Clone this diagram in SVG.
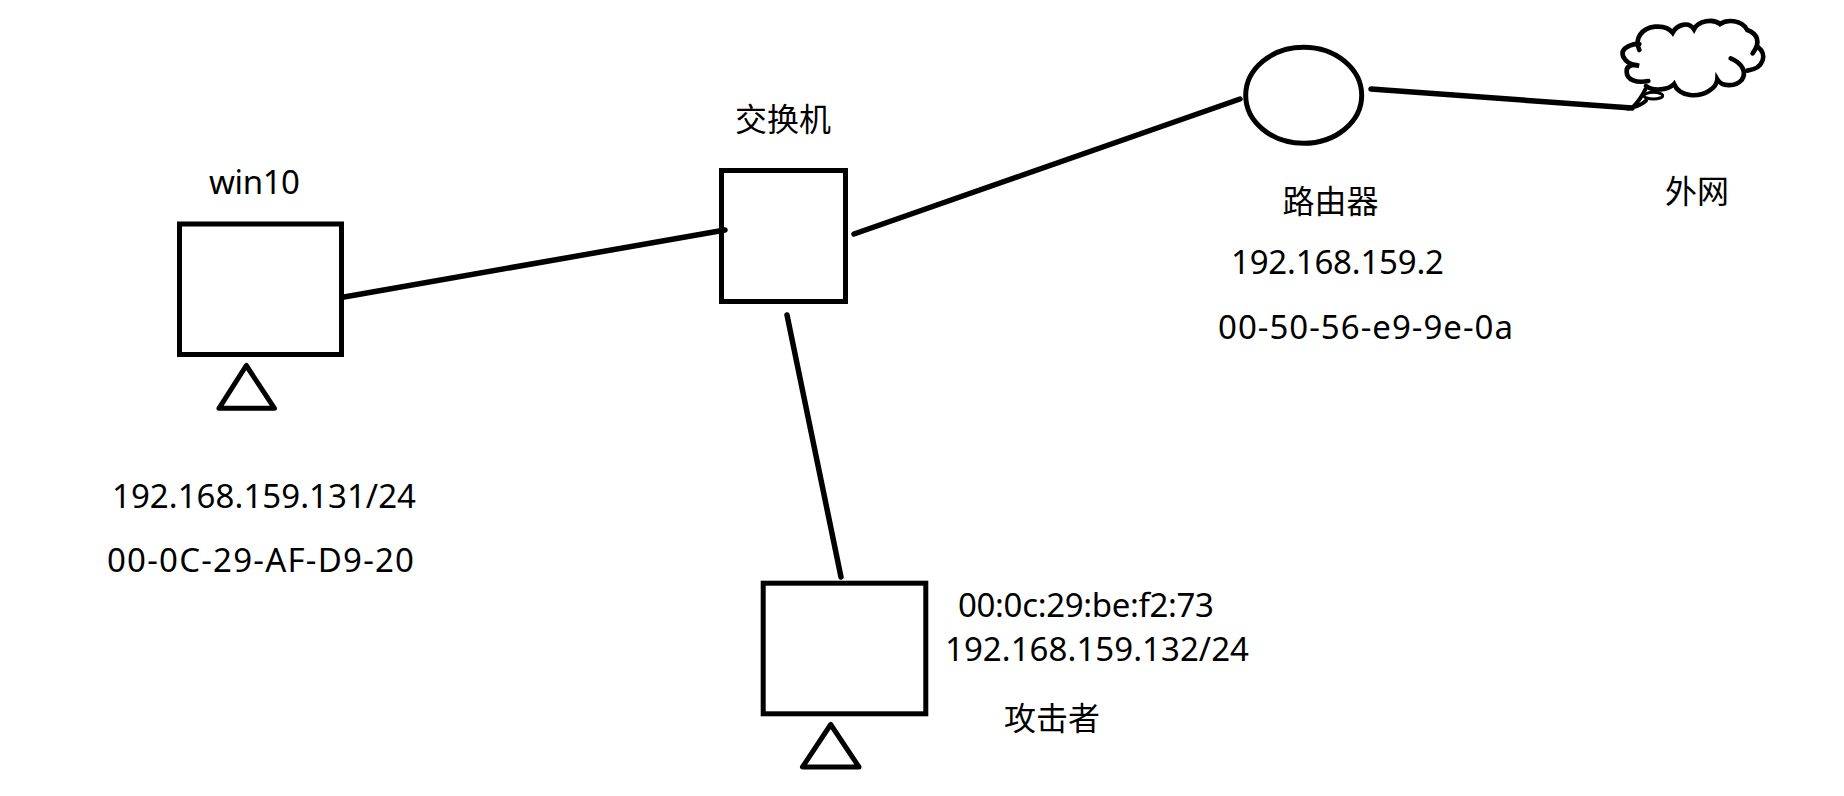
<svg xmlns="http://www.w3.org/2000/svg" width="1844" height="796" viewBox="0 0 1844 796">
<style>
.s{fill:none;stroke:#000;stroke-width:5}
.t{fill:none;stroke:#000;stroke-width:5;stroke-linejoin:round}
.c{fill:none;stroke:#000;stroke-width:5.500;stroke-linecap:round}
text{font-family:"Noto Sans","Noto Sans CJK SC",sans-serif;font-size:33px;fill:#000}
.h{font-size:32px}
</style>
<rect width="1844" height="796" fill="#fff"/>
<g id="connectors">
<path class="c" d="M344 297L725 230"/>
<path class="c" d="M854 234L1240 99"/>
<path class="c" d="M787 315L841 577"/>
<path class="c" d="M1371 89L1632 108"/>
</g>
<g id="win10">
<rect class="s" x="179.500" y="224" width="162" height="130.500"/>
<path class="t" d="M246.300 365.500L219 408.300H274.500Z"/>
<text x="209" y="194" textLength="91">win10</text>
<text x="112" y="508" textLength="304">192.168.159.131/24</text>
<text x="107" y="572" textLength="307">00-0C-29-AF-D9-20</text>
</g>
<g id="switch">
<rect class="s" x="721.500" y="170.500" width="124" height="131"/>
<text class="h" x="735" y="131">交换机</text>
</g>
<g id="router">
<ellipse class="s" cx="1303.700" cy="95.300" rx="58" ry="48"/>
<text class="h" x="1282.500" y="213">路由器</text>
<text x="1231" y="274" textLength="213">192.168.159.2</text>
<text x="1218" y="339" textLength="295">00-50-56-e9-9e-0a</text>
</g>
<g id="internet">
<g transform="translate(1610 0) scale(.3333)" fill="none" stroke="#000" stroke-width="14" stroke-linecap="round">
<path d="M88 150C72 115 95 85 135 80C160 78 178 85 188 98C200 75 235 62 252 88C265 62 310 55 330 72C350 58 395 58 412 90C440 100 455 125 428 160"/>
<path d="M445 142C470 160 465 205 412 212"/>
<path d="M362 175C400 190 410 220 395 240C375 262 335 260 322 238C320 265 280 290 240 285C215 282 200 270 192 252C175 270 130 275 108 258"/>
<path d="M115 243C80 250 50 240 50 215C48 200 65 190 87 197C50 195 35 170 38 155C45 140 70 130 88 132"/>
<ellipse cx="130" cy="287" rx="28" ry="10" stroke-width="9"/>
<path d="M106 268C98 285 85 305 68 322C85 318 98 312 108 302" stroke-width="12"/>
</g>
<text class="h" x="1665" y="203">外网</text>
</g>
<g id="attacker">
<rect class="s" x="763.200" y="583.200" width="162.600" height="130.600"/>
<path class="t" d="M830.700 724.500L802.500 767H859Z"/>
<text x="958" y="617" textLength="256">00:0c:29:be:f2:73</text>
<text x="945" y="661" textLength="304">192.168.159.132/24</text>
<text class="h" x="1004" y="730">攻击者</text>
</g>
</svg>
